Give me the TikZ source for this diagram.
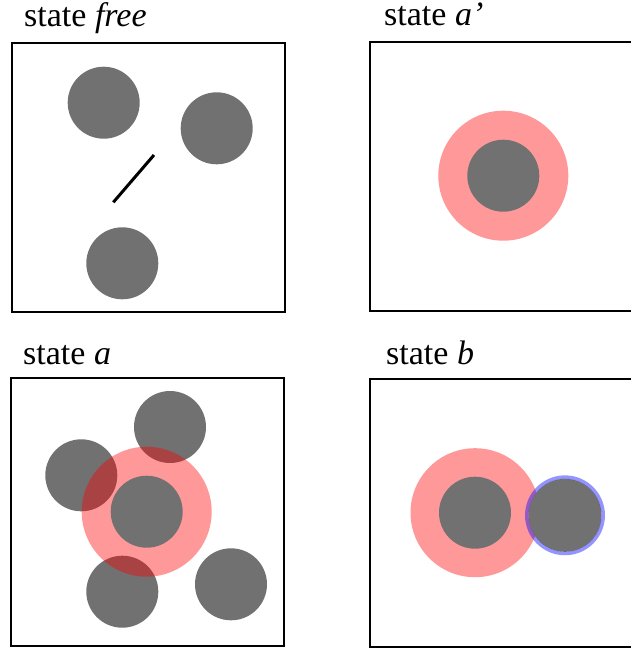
\documentclass[tikz,border=0pt]{standalone}
\usepackage{fontspec}
\setmainfont{Liberation Serif}
\newfontfamily\lblfont{Liberation Serif}
\definecolor{ballgray}{RGB}{113,113,113}
\begin{document}
\begin{tikzpicture}[x=1pt,y=-1pt,
  ballfill/.style={fill=ballgray},
  shell/.style={fill=red, fill opacity=0.4},
  ring/.style={draw=blue, draw opacity=0.42, line width=3.5pt},
  panel/.style={draw=black, line width=2pt},
  lbl/.style={anchor=base west, inner sep=0pt, font=\lblfont\fontsize{34}{38}\selectfont}]
\useasboundingbox (0,0) rectangle (631,649);
\clip (0,0) rectangle (631,649);
% labels
\node[lbl] (lfree) at (24,26.5) {state \textit{free}};
\node[lbl] (laprime) at (384,25.5) {state \textit{a’}};
\node[lbl] (la) at (23,364.3) {state \textit{a}};
\node[lbl] (lb) at (386,364.3) {state \textit{b}};
% panel free
\draw[panel] (12,43) rectangle (285,312);
\fill[ballfill] (103.7,102.7) circle (36pt);
\fill[ballfill] (216.7,128.3) circle (36pt);
\fill[ballfill] (122.3,263.3) circle (36pt);
\draw[line width=3pt] (113.3,202.3) -- (154,155);
% panel a'
\draw[panel] (370,42) rectangle (660,311);
\fill[shell] (503.3,175.7) circle (65pt);
\fill[ballfill] (503.3,175.7) circle (36pt);
% panel a
\draw[panel] (10.5,377.5) rectangle (283.5,645.5);
\fill[ballfill] (170,427) circle (36pt);
\fill[ballfill] (81.3,475.3) circle (36pt);
\fill[ballfill] (122.3,591.7) circle (36pt);
\fill[ballfill] (231,584.3) circle (36pt);
\fill[shell] (146.7,511.7) circle (65pt);
\fill[ballfill] (146.7,511.7) circle (36pt);
% panel b
\draw[panel] (370,378.5) rectangle (660,647.3);
\fill[shell] (475,512.7) circle (64.5pt);
\fill[ballfill] (475,512.7) circle (36pt);
\fill[ballfill] (565,515.3) circle (36.5pt);
\draw[ring] (565,515.3) circle (38.2pt);
\end{tikzpicture}
\end{document}
